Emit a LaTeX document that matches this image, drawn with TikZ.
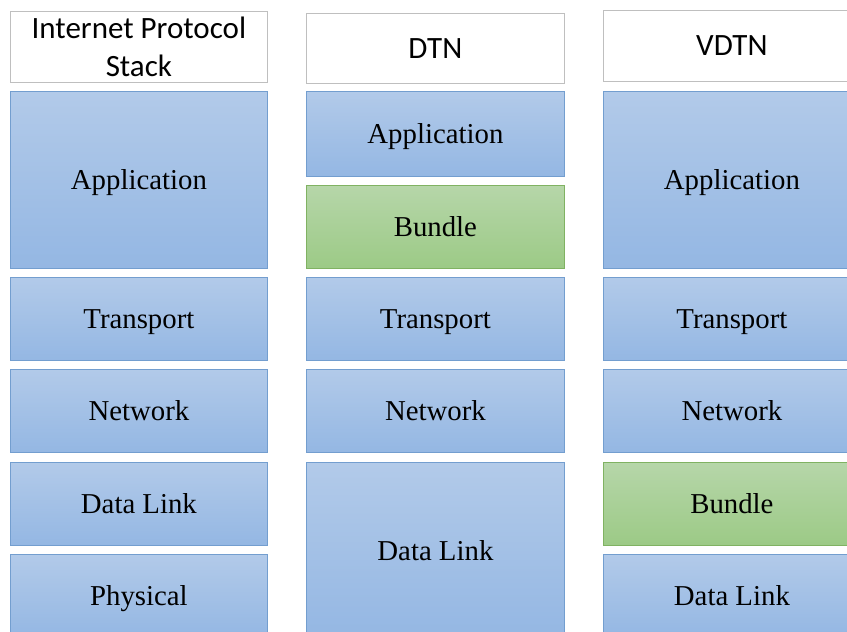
\documentclass[tikz,border=0pt]{standalone}
\usepackage{fontspec}
\setmainfont{Liberation Serif}
\newfontfamily\headfont{Carlito}
\begin{document}
\begin{tikzpicture}[
            x=1pt, y=-1pt,
            head/.style={rectangle, draw=black!25, fill=white, line width=0.8pt, minimum width=257pt, minimum height=71pt, anchor=north west, align=center, font=\headfont\fontsize{31}{38}\selectfont},
            layer/.style={rectangle, draw=layerline, line width=0.8pt, top color=layertop, bottom color=layerbot, minimum width=257pt, minimum height=83pt, anchor=north west, text height=20pt, text depth=0pt, font=\fontsize{28.8}{34}\selectfont},
            bundle/.style={layer, draw=bundleline, top color=bundletop, bottom color=bundlebot}
        ]
            \definecolor{layertop}{RGB}{178,202,233}
            \definecolor{layerbot}{RGB}{148,183,227}
            \definecolor{layerline}{RGB}{115,158,207}
            \definecolor{bundletop}{RGB}{182,214,169}
            \definecolor{bundlebot}{RGB}{156,202,134}
            \definecolor{bundleline}{RGB}{128,178,98}
            \clip (0,0) rectangle (847,632);
            \fill[white] (0,0) rectangle (847,632);
            % Internet protocol stack
            \node(iphead) at (10,11) [head] {Internet Protocol\\Stack};
            \node(ipapp) at (10,91) [layer, minimum height=177pt] {Application};
            \node(iptrans) at (10,277) [layer] {Transport};
            \node(ipnet) at (10,369) [layer] {Network};
            \node(iplink) at (10,462) [layer] {Data Link};
            \node(ipphys) at (10,554) [layer] {Physical};
            % DTN
            \node(dtnhead) at (306,13) [head, minimum width=258pt, minimum height=70pt] {DTN};
            \node(dtnapp) at (306,91) [layer, minimum width=258pt, minimum height=85pt] {Application};
            \node(dtnbundle) at (306,185) [bundle, minimum width=258pt] {Bundle};
            \node(dtntrans) at (306,277) [layer, minimum width=258pt] {Transport};
            \node(dtnnet) at (306,369) [layer, minimum width=258pt] {Network};
            \node(dtnlink) at (306,462) [layer, minimum width=258pt, minimum height=176pt] {Data Link};
            % VDTN
            \node(vdtnhead) at (603,10) [head] {VDTN};
            \node(vdtnapp) at (603,91) [layer, minimum height=177pt] {Application};
            \node(vdtntrans) at (603,277) [layer] {Transport};
            \node(vdtnnet) at (603,369) [layer] {Network};
            \node(vdtnbundle) at (603,462) [bundle] {Bundle};
            \node(vdtnlink) at (603,554) [layer] {Data Link};
        \end{tikzpicture}
\end{document}
